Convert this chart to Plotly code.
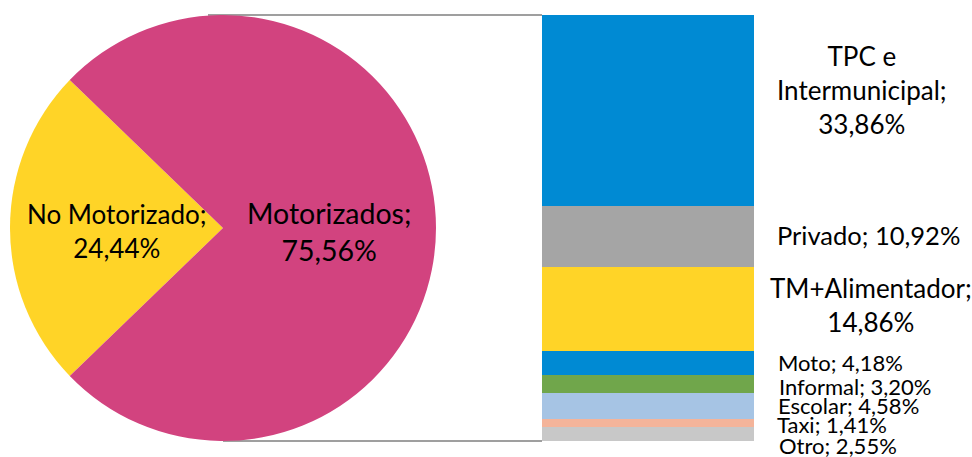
import plotly.graph_objects as go

# Modal split: pie of motorized vs non-motorized, bar breaks down motorized trips
pie_labels = ["No Motorizado", "Motorizados"]
pie_values = [24.44, 75.56]
pie_colors = ["#FFD427", "#D2437F"]

bar_labels = ["TPC e Intermunicipal", "Privado", "TM+Alimentador", "Moto",
              "Informal", "Escolar", "Taxi", "Otro"]
bar_values = [33.86, 10.92, 14.86, 4.18, 3.20, 4.58, 1.41, 2.55]
bar_colors = ["#008AD3", "#A5A5A5", "#FFD427", "#008AD3",
              "#70A64B", "#A6C4E4", "#F4B49A", "#C8C8C8"]

W, H = 972, 457
FONT = "Lato, 'Open Sans', sans-serif"


def px(x):
    return x / W


def py(y):
    return 1 - y / H


def pct(v):
    return f"{v:.2f}".replace(".", ",") + "%"


fig = go.Figure()

# Pie (left)
pie_top, pie_bot = 15, 441
pie_left, pie_right = 10, 436
fig.add_trace(go.Pie(
    labels=pie_labels, values=pie_values, sort=False, direction="clockwise",
    rotation=270 - 180 * pie_values[0] / 100,
    marker=dict(colors=pie_colors, line=dict(width=0)),
    textinfo="none", hoverinfo="label+percent", showlegend=False,
    domain=dict(x=[px(pie_left), px(pie_right)], y=[py(pie_bot), py(pie_top)]),
))

# Stacked bar (right), drawn bottom-up
bar_left, bar_right = 542, 754
for lab, val, col in reversed(list(zip(bar_labels, bar_values, bar_colors))):
    fig.add_trace(go.Bar(
        x=[0], y=[val], name=lab, marker=dict(color=col, line=dict(width=0)),
        width=1, showlegend=False, hovertemplate=f"{lab}: {pct(val)}<extra></extra>",
    ))

total = sum(bar_values)
fig.update_layout(
    width=W, height=H, margin=dict(l=0, r=0, t=0, b=0),
    paper_bgcolor="white", plot_bgcolor="rgba(0,0,0,0)",
    barmode="stack", bargap=0,
    xaxis=dict(domain=[px(bar_left), px(bar_right)], range=[-0.5, 0.5],
               visible=False, fixedrange=True),
    yaxis=dict(domain=[py(pie_bot), py(pie_top)], range=[0, total],
               visible=False, fixedrange=True),
    font=dict(family=FONT, color="black"),
)

# Connector lines from the pie to the bar
cx = (pie_left + pie_right) / 2
for x0, y in [(cx - 15, pie_top), (cx, pie_bot)]:
    fig.add_shape(type="line", xref="paper", yref="paper",
                  x0=px(x0), x1=px(bar_left), y0=py(y), y1=py(y),
                  line=dict(color="#7F7F7F", width=1.5), layer="below")


def label(text, x, y, size, xanchor="center"):
    fig.add_annotation(x=px(x), y=py(y), xref="paper", yref="paper",
                       text=text, showarrow=False, xanchor=xanchor,
                       yanchor="middle", align="center", font=dict(size=size))


# Pie labels
label(f"{pie_labels[0]};<br>{pct(pie_values[0])}", 117, 231, 26)
label(f"{pie_labels[1]};<br>{pct(pie_values[1])}", 329, 231, 28.5)

# Bar labels
label("TPC e<br>Intermunicipal;<br>" + pct(bar_values[0]), 862, 90, 26)
label(f"{bar_labels[1]}; {pct(bar_values[1])}", 775, 235, 25.5, "left")
label(f"{bar_labels[2]};<br>{pct(bar_values[2])}", 871, 305, 26)

small_pos = [(776, 362), (777, 386), (776, 405), (775, 424), (777, 445)]
for (lab, val), (x, y) in zip(list(zip(bar_labels, bar_values))[3:], small_pos):
    label(f"{lab}; {pct(val)}", x, y, 22, "left")

fig.write_html("out.html")
